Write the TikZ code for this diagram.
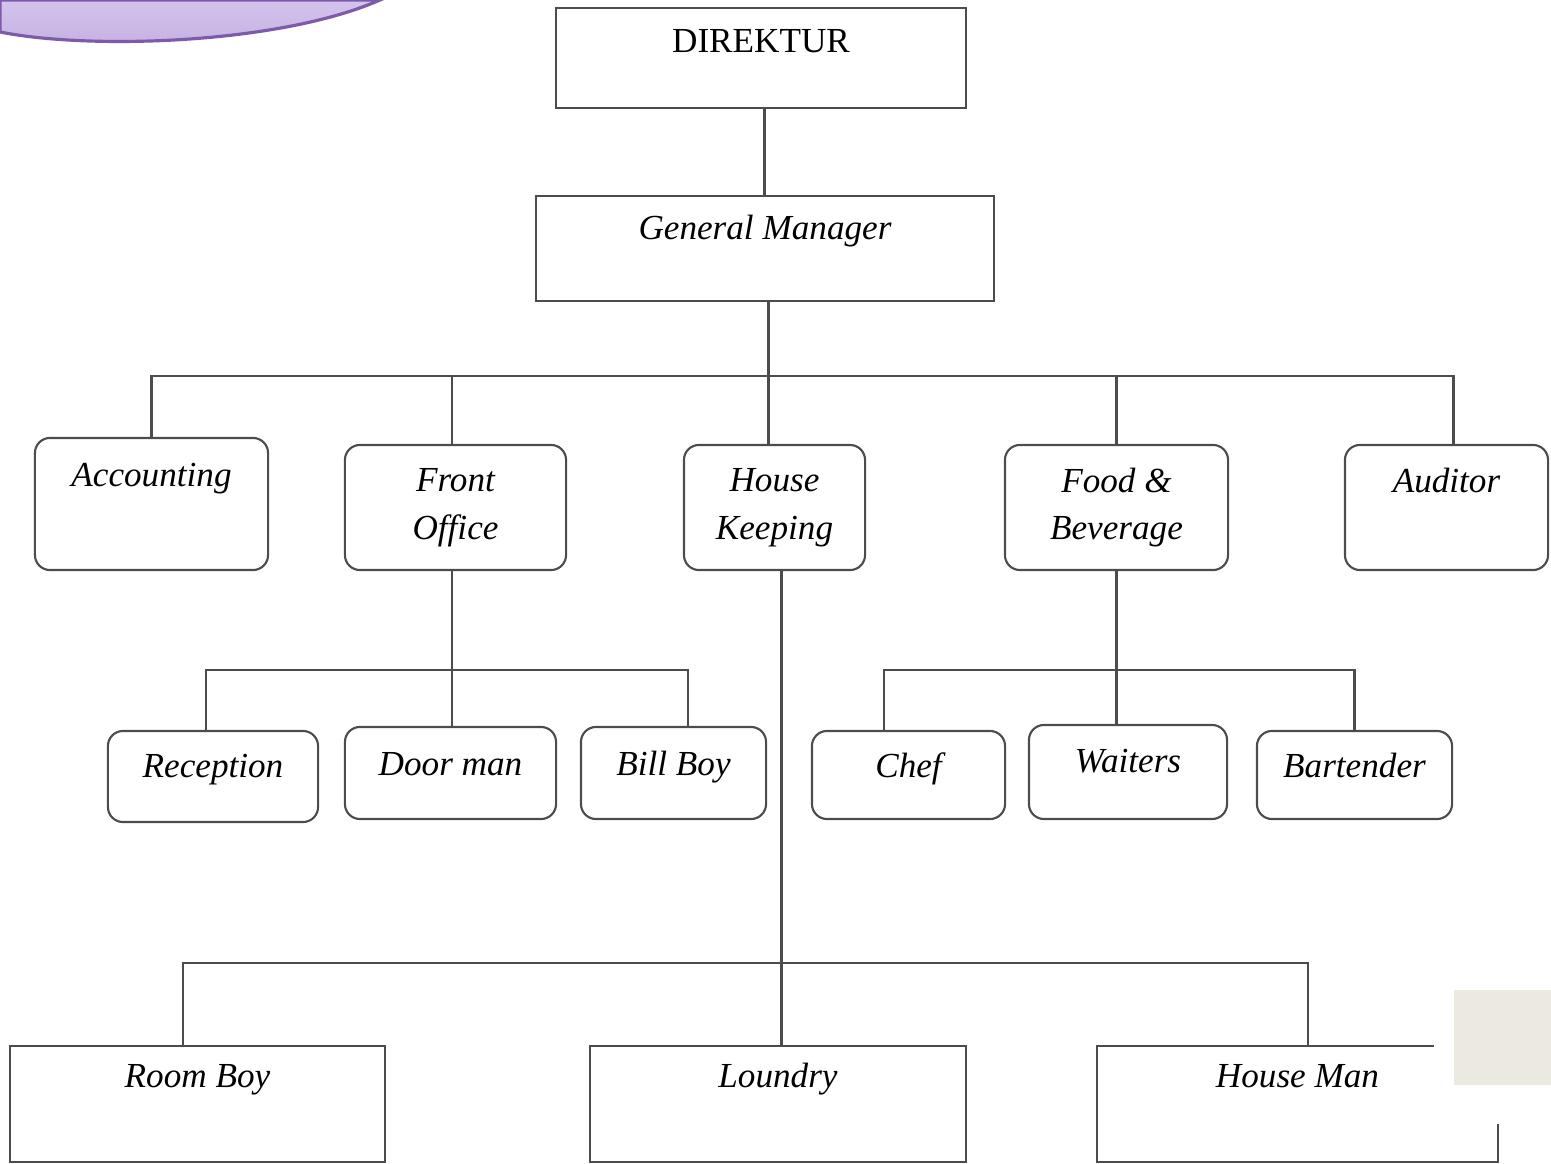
\documentclass[tikz,border=0pt]{standalone}
\usepackage{fontspec}
\setmainfont{Liberation Serif}
\usepackage{tikz}
\usetikzlibrary{positioning}
\definecolor{ungu}{HTML}{D3C4EC}
\definecolor{ungutua}{HTML}{C4AFE2}
\definecolor{ungugaris}{HTML}{7E5BAA}
\definecolor{krem}{HTML}{ECE9E0}
\tikzset{
  jabatan/.style={draw=black!70, line width=0.6pt, inner sep=0pt, align=center,
    font=\fontsize{10}{13.5}\selectfont\itshape},
  bagian/.style={jabatan, rounded corners=0.15cm},
  garis/.style={draw=black!70, line width=0.6pt}
}

\begin{document}
\begin{tikzpicture}[x=0.01cm, y=-0.01cm]
\useasboundingbox (0,0) rectangle (1551,1164);
\shade[top color=ungu, bottom color=ungutua, draw=ungugaris, line width=0.9pt]
  (0,0) -- (0,32) .. controls (90,50) and (280,44) .. (380,0) -- cycle;

\node[jabatan, font=\fontsize{10}{13.5}\selectfont\upshape, minimum width=4.10cm, minimum height=1cm, text height=0.45cm, text depth=0.55cm] (dir) at (761,58) {DIREKTUR};
\node[jabatan, minimum width=4.58cm, minimum height=1.05cm, text height=0.44cm, text depth=0.61cm] (gm) at (765,248.5) {General Manager};

\node[bagian, minimum width=2.33cm, minimum height=1.32cm, text height=0.49cm, text depth=0.83cm] (acc) at (151.5,504) {Accounting};
\node[bagian, minimum width=2.21cm, minimum height=1.25cm] (fo) at (455.5,507.5) {Front\\Office};
\node[bagian, minimum width=1.81cm, minimum height=1.25cm] (hk) at (774.5,507.5) {House\\Keeping};
\node[bagian, minimum width=2.23cm, minimum height=1.25cm] (fb) at (1116.5,507.5) {Food \&\\Beverage};
\node[bagian, minimum width=2.03cm, minimum height=1.25cm, text height=0.48cm, text depth=0.77cm] (aud) at (1446.5,507.5) {Auditor};

\node[bagian, minimum width=2.10cm, minimum height=0.91cm, text height=0.46cm, text depth=0.45cm] (rec) at (213,776.5) {Reception};
\node[bagian, minimum width=2.11cm, minimum height=0.92cm, text height=0.48cm, text depth=0.44cm] (dm) at (450.5,773) {Door man};
\node[bagian, minimum width=1.85cm, minimum height=0.92cm, text height=0.48cm, text depth=0.44cm] (bb) at (673.5,773) {Bill Boy};
\node[bagian, minimum width=1.93cm, minimum height=0.88cm, text height=0.46cm, text depth=0.42cm] (chef) at (908.5,775) {Chef};
\node[bagian, minimum width=1.98cm, minimum height=0.94cm, text height=0.47cm, text depth=0.47cm] (wt) at (1128,772) {Waiters};
\node[bagian, minimum width=1.95cm, minimum height=0.88cm, text height=0.46cm, text depth=0.42cm] (bt) at (1354.5,775) {Bartender};

\node[jabatan, minimum width=3.75cm, minimum height=1.16cm, text height=0.42cm, text depth=0.74cm] (rb) at (197.5,1104) {Room Boy};
\node[jabatan, minimum width=3.76cm, minimum height=1.16cm, text height=0.42cm, text depth=0.74cm] (ld) at (778,1104) {Loundry};
\node[jabatan, minimum width=4.01cm, minimum height=1.16cm, text height=0.42cm, text depth=0.74cm] (hm) at (1297.5,1104) {House Man};

\coordinate (bus1) at (768,376);
\coordinate (bus2) at (452,670);
\coordinate (bus3) at (1117,670);
\coordinate (bus4) at (781,963);

\draw[garis] ([xshift=1pt]dir.south) -- ([xshift=1pt]dir.south |- gm.north);
\draw[garis] ([xshift=1pt]gm.south) -- ([xshift=1pt]gm.south |- hk.north);
\draw[garis] (acc.north) |- (bus1) -| ([xshift=2pt]aud.north);
\draw[garis] ([xshift=-1pt]fo.north) -- ([xshift=-1pt]fo.north |- bus1);
\draw[garis] (fb.north) -- (fb.north |- bus1);

\draw[garis] ([xshift=-1pt]fo.south) -- ([xshift=-1pt]fo.south |- dm.north);
\draw[garis] ([xshift=-2pt]rec.north) |- (bus2) -| ([xshift=4pt]bb.north);
\draw[garis] (fb.south) -- (fb.south |- wt.north);
\draw[garis] ([xshift=-7pt]chef.north) |- (bus3) -| (bt.north);

\draw[garis] ([xshift=2pt]hk.south) -- ([xshift=2pt]hk.south |- ld.north);
\draw[garis] ([xshift=-4pt]rb.north) |- (bus4) -| ([xshift=3pt]hm.north);

\fill[white] (1434,985) rectangle (1551,1124);
\fill[krem] (1454,990) rectangle (1551,1085);
\end{tikzpicture}
\end{document}
